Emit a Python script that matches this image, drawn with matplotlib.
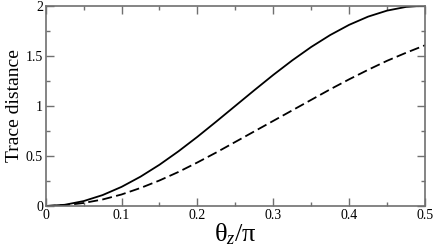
import matplotlib
matplotlib.use("Agg")
import matplotlib.pyplot as plt
from matplotlib.ticker import MultipleLocator

# values
theta = [0.0, 0.025, 0.05, 0.075, 0.1, 0.125, 0.15, 0.175, 0.2, 0.225, 0.25,
         0.275, 0.3, 0.325, 0.35, 0.375, 0.4, 0.425, 0.45, 0.475, 0.5]
solid = [0.0, 0.012, 0.049, 0.109, 0.191, 0.293, 0.412, 0.546, 0.691, 0.844, 1.0,
         1.156, 1.309, 1.454, 1.588, 1.707, 1.809, 1.891, 1.951, 1.988, 2.0]
dashed = [0.0, 0.008, 0.03, 0.065, 0.115, 0.18, 0.255, 0.34, 0.435, 0.535, 0.64,
          0.745, 0.85, 0.955, 1.06, 1.165, 1.265, 1.36, 1.45, 1.53, 1.605]

x_ticks = [0, 0.1, 0.2, 0.3, 0.4, 0.5]
x_tick_labels = ['0', '0.1', '0.2', '0.3', '0.4', '0.5']
y_ticks = [0, 0.5, 1, 1.5, 2]
y_tick_labels = ['0', '0.5', '1', '1.5', '2']

plt.rcParams['font.family'] = ['Liberation Serif', 'DejaVu Serif']
plt.rcParams['mathtext.fontset'] = 'custom'
plt.rcParams['mathtext.rm'] = 'Liberation Serif'
plt.rcParams['mathtext.it'] = 'Liberation Serif:italic'

frame = '#707070'

fig = plt.figure(figsize=(4.36, 2.49), dpi=100)
ax = fig.add_axes([0.1048, 0.1727, 0.8700, 0.8044])

ax.plot(theta, solid, color='black', lw=1.3)
ax.plot(theta, dashed, color='black', lw=1.3, dashes=(5.5, 2.4))

ax.set_xlim(0, 0.5)
ax.set_ylim(0, 2)
ax.set_xticks(x_ticks)
ax.set_xticklabels(x_tick_labels)
ax.set_yticks(y_ticks)
ax.set_yticklabels(y_tick_labels)
ax.xaxis.set_minor_locator(MultipleLocator(0.05))
ax.yaxis.set_minor_locator(MultipleLocator(0.25))

ax.tick_params(which='both', direction='in', top=True, right=True,
               color=frame, width=1.0, labelsize=10, pad=2)
ax.tick_params(which='major', length=6)
ax.tick_params(which='minor', length=3)
for sp in ax.spines.values():
    sp.set_color(frame)
    sp.set_linewidth(1.2)

ax.set_ylabel('Trace distance', fontsize=14, labelpad=2)
ax.set_xlabel('θ$_z$/π', fontsize=19, labelpad=0)

fig.savefig('out.png', dpi=100)
